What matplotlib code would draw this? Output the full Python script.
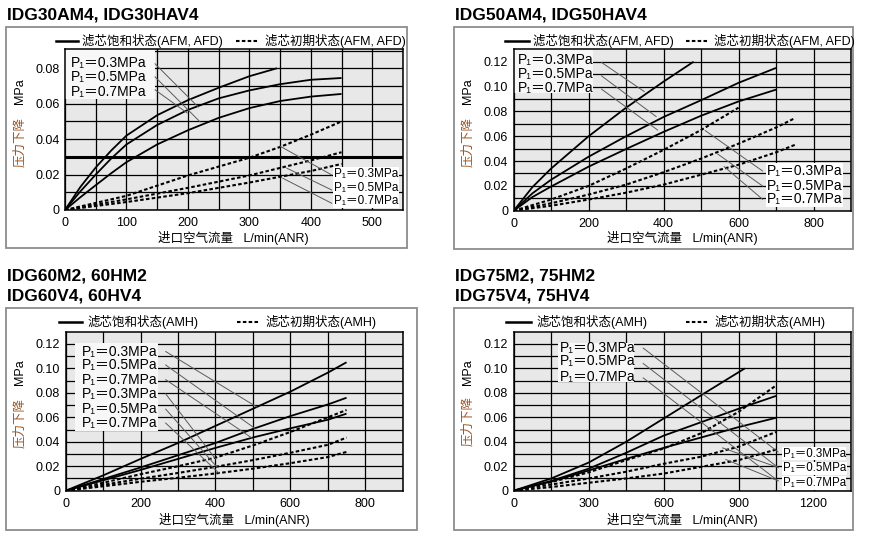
import numpy as np
import matplotlib
matplotlib.use('Agg')
import matplotlib.pyplot as plt
from matplotlib.patches import Rectangle
from matplotlib.lines import Line2D
from matplotlib.ticker import FuncFormatter

plt.rcParams['font.family'] = ['Liberation Sans', 'DejaVu Sans', 'Noto Sans CJK SC']

W, H = 872, 535
AX_BG = '#e8e8e8'
BOX_EDGE = '#8c8c8c'
LEADER = '#5a5a5a'
YLAB_CN = '#9a5628'
DOT = (0, (1.7, 1.1))

PRESSURES = ['0.3', '0.5', '0.7']
LABELS = ['P\u2081\uff1d%sMPa' % p for p in PRESSURES]

# ---- IDG30 (flow L/min, pressure drop MPa) ----
g30_sat_x = [[0, 25, 50, 75, 100, 150, 200, 250, 300, 345],
             [0, 25, 50, 75, 100, 150, 200, 250, 300, 350, 400, 450],
             [0, 25, 50, 75, 100, 150, 200, 250, 300, 350, 400, 450]]
g30_sat_y = [[0, 0.013, 0.024, 0.0335, 0.042, 0.0535, 0.062, 0.069, 0.0755, 0.080],
             [0, 0.0105, 0.020, 0.029, 0.037, 0.048, 0.0565, 0.063, 0.0675, 0.071, 0.0735, 0.0745],
             [0, 0.0072, 0.014, 0.0207, 0.027, 0.037, 0.045, 0.052, 0.0575, 0.0615, 0.064, 0.0655]]
g30_ini_x = [[0, 100, 200, 300, 350, 400, 450],
             [0, 100, 200, 300, 400, 450],
             [0, 100, 200, 300, 400, 450]]
g30_ini_y = [[0, 0.008, 0.0195, 0.0295, 0.0356, 0.0425, 0.050],
             [0, 0.006, 0.0125, 0.0195, 0.028, 0.0326],
             [0, 0.0045, 0.0095, 0.0155, 0.022, 0.026]]

# ---- IDG50 ----
g50_sat_x = [[0, 50, 100, 200, 300, 400, 480],
             [0, 50, 100, 200, 300, 400, 500, 600, 700],
             [0, 50, 100, 200, 300, 400, 500, 600, 700]]
g50_sat_y = [[0, 0.019, 0.034, 0.060, 0.083, 0.104, 0.120],
             [0, 0.014, 0.025, 0.0435, 0.060, 0.0755, 0.089, 0.103, 0.115],
             [0, 0.011, 0.0195, 0.0355, 0.0497, 0.0635, 0.0765, 0.088, 0.0975]]
g50_ini_x = [[0, 100, 200, 300, 400, 500, 600],
             [0, 100, 200, 300, 400, 500, 600, 700, 750],
             [0, 100, 200, 300, 400, 500, 600, 700, 750]]
g50_ini_y = [[0, 0.009, 0.020, 0.034, 0.049, 0.065, 0.083],
             [0, 0.006, 0.013, 0.021, 0.031, 0.042, 0.054, 0.067, 0.0745],
             [0, 0.004, 0.009, 0.0145, 0.021, 0.029, 0.037, 0.047, 0.053]]

# ---- IDG60 ----
g60_x = [0, 100, 200, 300, 400, 500, 600, 700, 750]
g60_sat_y = [[0, 0.0125, 0.026, 0.039, 0.053, 0.067, 0.081, 0.0965, 0.105],
             [0, 0.0095, 0.019, 0.029, 0.039, 0.0505, 0.061, 0.0705, 0.076],
             [0, 0.0085, 0.017, 0.026, 0.035, 0.0435, 0.051, 0.058, 0.063]]
g60_ini_y = [[0, 0.0065, 0.0135, 0.020, 0.027, 0.037, 0.048, 0.060, 0.066],
             [0, 0.0048, 0.0098, 0.0145, 0.0195, 0.025, 0.031, 0.0375, 0.0434],
             [0, 0.0036, 0.0073, 0.0106, 0.0141, 0.018, 0.0225, 0.0275, 0.0317]]

# ---- IDG75 ----
g75_sat_x = [[0, 150, 300, 450, 600, 750, 925],
             [0, 150, 300, 450, 600, 750, 900, 1050],
             [0, 150, 300, 450, 600, 750, 900, 1050]]
g75_sat_y = [[0, 0.010, 0.023, 0.040, 0.059, 0.078, 0.100],
             [0, 0.008, 0.018, 0.031, 0.045, 0.056, 0.067, 0.0775],
             [0, 0.0075, 0.0165, 0.026, 0.035, 0.0435, 0.052, 0.0596]]
g75_ini_x = [0, 150, 300, 450, 600, 750, 900, 1050]
g75_ini_y = [[0, 0.007, 0.015, 0.025, 0.0345, 0.047, 0.0645, 0.086],
             [0, 0.005, 0.010, 0.0155, 0.022, 0.0278, 0.036, 0.048],
             [0, 0.003, 0.0065, 0.010, 0.014, 0.0195, 0.025, 0.0336]]


def fx(px):
    return px / W


def fy(py):
    return 1 - py / H


fig = plt.figure(figsize=(8.72, 5.35), dpi=100)


def ftext(px, py, s, **kw):
    fig.text(fx(px), fy(py), s, **kw)


def fline(x0, x1, py, **kw):
    fig.add_artist(Line2D([fx(x0), fx(x1)], [fy(py), fy(py)],
                          transform=fig.transFigure, color='black', **kw))


def panel(box, axpx, xlim, ylim, xgrid, xticks, titles, legend, ylab, xlab):
    x0, y0, x1, y1 = box
    fig.add_artist(Rectangle((fx(x0), fy(y1)), (x1 - x0) / W, (y1 - y0) / H,
                             transform=fig.transFigure, facecolor='white',
                             edgecolor=BOX_EDGE, lw=1.3, zorder=-1))
    for i, t in enumerate(titles):
        ftext(x0 + 1, y0 - 12 - 20 * (len(titles) - 1 - i), t, fontsize=12.5,
              fontweight='bold', va='center', ha='left')

    a0, b0, a1, b1 = axpx
    ax = fig.add_axes([fx(a0), fy(b1), (a1 - a0) / W, (b1 - b0) / H])
    ax.set_facecolor(AX_BG)
    ax.set_xlim(*xlim)
    ax.set_ylim(*ylim)
    ax.set_xticks(xticks)
    ax.set_xticks(np.arange(0, xlim[1] + 1, xgrid), minor=True)
    ax.set_yticks(np.arange(0, ylim[1] - 0.005, 0.02))
    ax.set_yticks(np.arange(0, ylim[1], 0.01), minor=True)
    ax.yaxis.set_major_formatter(FuncFormatter(lambda v, _: '0' if v == 0 else f'{v:.2f}'))
    ax.tick_params(which='both', length=0, labelsize=9)
    ax.tick_params(axis='y', pad=4)
    ax.tick_params(axis='x', pad=5)
    ax.set_axisbelow(True)
    ax.grid(which='both', color='black', lw=0.9)
    for sp in ax.spines.values():
        sp.set_color('black')
        sp.set_linewidth(1.1)

    # legend row
    lx = legend['x']
    ly = legend['y']
    fline(lx[0], lx[1], ly, lw=1.8)
    ftext(lx[2], ly, legend['sat'], fontsize=9, va='center')
    fline(lx[3], lx[4], ly, lw=1.5, linestyle=DOT)
    ftext(lx[5], ly, legend['ini'], fontsize=9, va='center')

    # axis labels
    ftext(ylab[0], ylab[1], 'MPa', fontsize=9, rotation=90, ha='center', va='center')
    ftext(ylab[0], ylab[2], '压力下降', fontsize=9, rotation=90, ha='center',
          va='center', color=YLAB_CN)
    ftext(xlab[0], xlab[1], '进口空气流量   L/min(ANR)', fontsize=9, ha='center', va='center')
    return ax


def curves(ax, xs_sat, ys_sat, xs_ini, ys_ini):
    for xs, ys in zip(xs_sat, ys_sat):
        ax.plot(xs, ys, color='black', lw=1.3, zorder=3, solid_capstyle='butt')
    for xs, ys in zip(xs_ini, ys_ini):
        ax.plot(xs, ys, color='black', lw=1.5, linestyle=DOT, zorder=3)


def leaders(ax, segs):
    for (xa, ya), (xb, yb) in segs:
        ax.plot([xa, xb], [ya, yb], color=LEADER, lw=0.7, zorder=3.5)


def label_block(ax, x, ys, texts, fs=10, boxed=False):
    for y, t in zip(ys, texts):
        kw = {}
        if boxed:
            kw['bbox'] = dict(facecolor='white', edgecolor='none', pad=0.6)
        ax.text(x, y, t, fontsize=fs, va='center', ha='left', zorder=4, **kw)


# ---- panel 1: IDG30 ----
ax = panel((6, 27, 407, 248), (65, 49.3, 403, 210), (0, 550), (0, 0.0907), 50,
           [0, 100, 200, 300, 400, 500], ['IDG30AM4, IDG30HAV4'],
           dict(x=[56, 78, 82, 236, 258, 265], y=40.7,
                sat='滤芯饱和状态(AFM, AFD)', ini='滤芯初期状态(AFM, AFD)'),
           (20, 91, 142), (233, 238))
ax.axhline(0.03, color='black', lw=2.2, zorder=1.5)
ax.add_patch(Rectangle((0, 0.0627), 146, 0.03, facecolor='#f7f7f7', edgecolor='none', zorder=2))
curves(ax, g30_sat_x, g30_sat_y, g30_ini_x, g30_ini_y)
label_block(ax, 9, [0.0832, 0.075, 0.0668], LABELS)
leaders(ax, [((146.6, 0.0825), (216.6, 0.0582)),
             ((146.6, 0.0751), (219.9, 0.0497)),
             ((146.6, 0.0678), (198.7, 0.0548))])
label_block(ax, 438, [0.0202, 0.0126, 0.0051], LABELS, fs=8.5, boxed=True)
leaders(ax, [((350, 0.036), (434, 0.0198)),
             ((361, 0.0236), (434, 0.0113)),
             ((354.5, 0.0179), (434, 0.0038))])

# ---- panel 2: IDG50 ----
ax = panel((454, 27, 853, 249), (513.7, 49.3, 851, 210.7), (0, 900), (0, 0.13), 100,
           [0, 200, 400, 600, 800], ['IDG50AM4, IDG50HAV4'],
           dict(x=[505, 529, 533, 686, 709, 714], y=40.7,
                sat='滤芯饱和状态(AFM, AFD)', ini='滤芯初期状态(AFM, AFD)'),
           (468, 91, 142), (682, 238))
ax.add_patch(Rectangle((0, 0.0947), 210.7, 0.04, facecolor='#f7f7f7', edgecolor='none', zorder=2))
curves(ax, g50_sat_x, g50_sat_y, g50_ini_x, g50_ini_y)
label_block(ax, 10.7, [0.1215, 0.110, 0.0987], LABELS)
leaders(ax, [((234.4, 0.1194), (348.3, 0.0960)),
             ((234.4, 0.1086), (380, 0.0758)),
             ((234.4, 0.0979), (384, 0.0650))])
label_block(ax, 674.7, [0.032, 0.0199, 0.0092], LABELS, fs=10, boxed=True)
leaders(ax, [((511, 0.0645), (664, 0.032)),
             ((544, 0.0457), (664, 0.0199)),
             ((561.6, 0.0355), (664, 0.0092))])

# ---- panel 3: IDG60 ----
ax = panel((6, 308, 417, 530), (65.7, 331.7, 402.7, 490.7), (0, 900), (0, 0.13), 100,
           [0, 200, 400, 600, 800], ['IDG60M2, 60HM2', 'IDG60V4, 60HV4'],
           dict(x=[59, 82, 87, 237, 260, 265], y=321.7,
                sat='滤芯饱和状态(AMH)', ini='滤芯初期状态(AMH)'),
           (20, 372, 423), (234, 520))
ax.add_patch(Rectangle((25, 0.049), 222, 0.072, facecolor='#f7f7f7', edgecolor='none', zorder=2))
curves(ax, [g60_x] * 3, g60_sat_y, [g60_x] * 3, g60_ini_y)
label_block(ax, 42.7, [0.1138, 0.1028, 0.0908, 0.0792, 0.0667, 0.0553], LABELS + LABELS)
leaders(ax, [((267, 0.1138), (510, 0.0685)),
             ((267, 0.1028), (505, 0.051)),
             ((267, 0.0908), (500, 0.0425)),
             ((267, 0.0792), (400, 0.026)),
             ((267, 0.0667), (405, 0.019)),
             ((267, 0.0553), (410, 0.0142))])

# ---- panel 4: IDG75 ----
ax = panel((454, 308, 853, 530), (513.7, 331.7, 851, 490.7), (0, 1350), (0, 0.13), 150,
           [0, 300, 600, 900, 1200], ['IDG75M2, 75HM2', 'IDG75V4, 75HV4'],
           dict(x=[506, 531, 536, 686, 709, 714], y=321.7,
                sat='滤芯饱和状态(AMH)', ini='滤芯初期状态(AMH)'),
           (468, 372, 421), (682, 520))
ax.add_patch(Rectangle((176, 0.0886), 306, 0.0324, facecolor='#f7f7f7', edgecolor='none', zorder=2))
curves(ax, g75_sat_x, g75_sat_y, [g75_ini_x] * 3, g75_ini_y)
label_block(ax, 185, [0.1166, 0.1063, 0.0933], LABELS)
leaders(ax, [((518.4, 0.1166), (1058, 0.0317)),
             ((518.4, 0.104), (1058, 0.019)),
             ((518.4, 0.0922), (1058, 0.0081)),
             ((836, 0.035), (1058, 0.019)),
             ((849, 0.0255), (1058, 0.0081))])
label_block(ax, 1076, [0.0304, 0.0182, 0.0065], LABELS, fs=8.3, boxed=True)

fig.savefig('out.png', dpi=100, facecolor='white')
